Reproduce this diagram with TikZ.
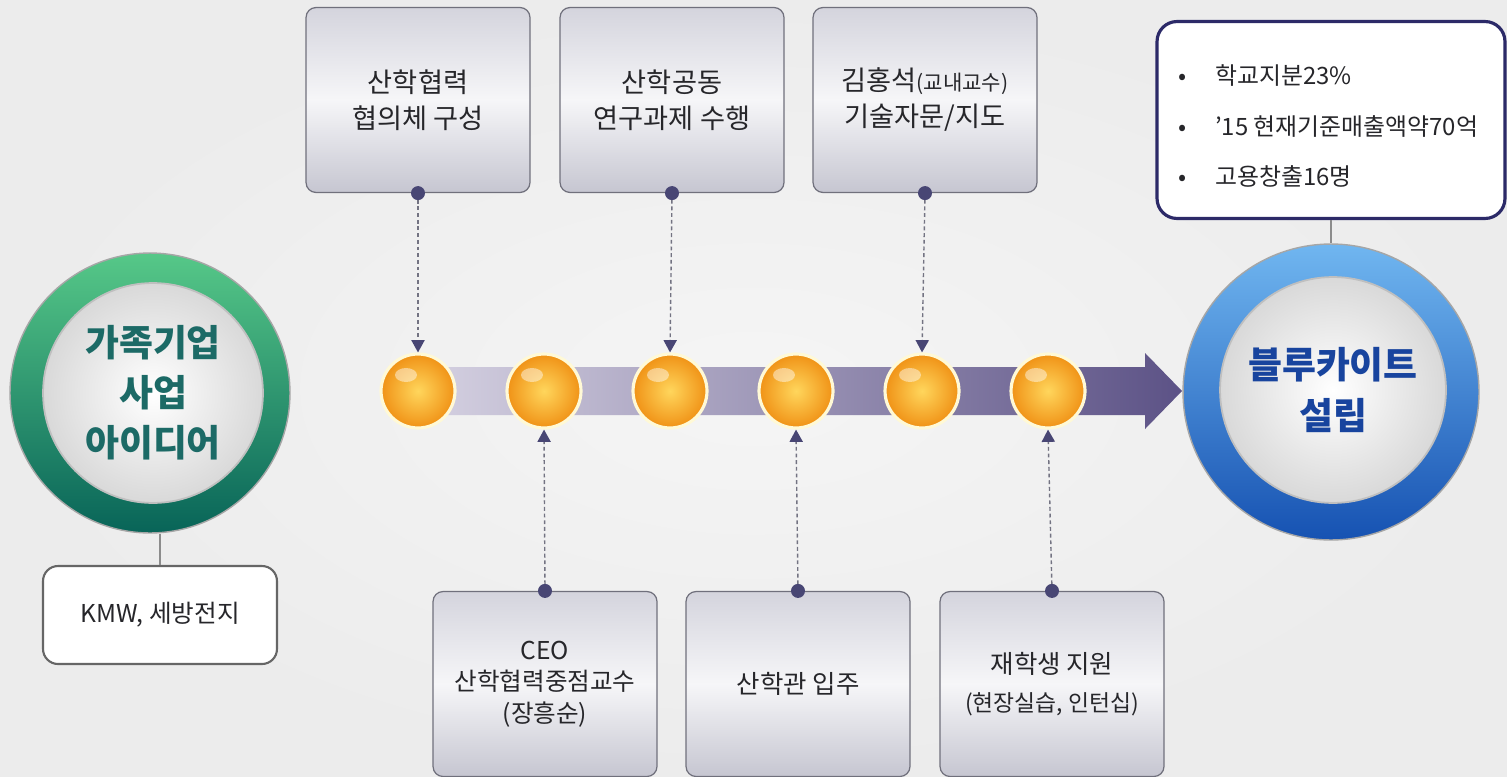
\documentclass[tikz,border=0pt]{standalone}
\usepackage{fontspec}
\setmainfont{Noto Sans CJK KR}
\usetikzlibrary{arrows.meta}
\definecolor{bgcol}{RGB}{236,236,236}
\definecolor{boxtop}{RGB}{212,212,221}
\definecolor{boxmid}{RGB}{246,246,248}
\definecolor{boxbot}{RGB}{198,198,209}
\definecolor{boxline}{RGB}{112,112,124}
\definecolor{pincol}{RGB}{72,70,116}
\definecolor{feedcol}{RGB}{115,115,130}
\definecolor{bandl}{RGB}{214,210,226}
\definecolor{bandr}{RGB}{92,82,134}
\definecolor{beadin}{RGB}{255,214,92}
\definecolor{beadout}{RGB}{240,146,22}
\definecolor{beadrim}{RGB}{255,249,214}
\definecolor{green1}{RGB}{86,200,136}
\definecolor{green2}{RGB}{8,100,88}
\definecolor{tealtxt}{RGB}{28,106,102}
\definecolor{blue1}{RGB}{112,182,240}
\definecolor{blue2}{RGB}{22,82,178}
\definecolor{bluetxt}{RGB}{24,68,158}
\definecolor{navy1}{RGB}{44,42,104}
\definecolor{textgray}{RGB}{38,38,42}
\def\bw{4.48cm}
\def\bh{3.7cm}

\begin{document}
\begin{tikzpicture}[x=0.02cm, y=-0.02cm,
		card/.style={draw=boxline, line width=0.7pt, rounded corners=0.2cm,
			minimum width=\bw, minimum height=\bh, top color=boxtop, bottom color=boxbot,
			middle color=boxmid, align=center, text=textgray},
		bead/.style={circle, draw=beadrim, line width=1.8pt, inner color=beadin, outer color=beadout, minimum size=1.48cm},
		feed/.style={draw=feedcol, line width=0.8pt, dash pattern=on 2.2pt off 1.6pt,
			-{Triangle[width=7.5pt,length=7pt,color=pincol]}},
		ring/.style={circle, draw=black!35, line width=0.8pt},
		lens/.style={circle, draw=black!25, line width=1pt, inner color=white, outer color=black!15,
			align=center, font=\bfseries\fontsize{21}{28.5}\selectfont},
		stem/.style={draw=black!45, line width=0.7pt}]

	% Background
	\shade[inner color=white!96!black, outer color=bgcol] (0,0) rectangle (1507,777);
	\useasboundingbox (0,0) rectangle (1507,777);

	% Band with arrow head
	\shade[left color=bandl, right color=bandr] (418,367) -- (1145,367) -- (1145,353) -- (1182,391)
		-- (1145,429) -- (1145,415) -- (418,415) -- cycle;

	% Beads
	\foreach \i in {1,...,6}{
		\node[bead] (b\i) at ({418+126*(\i-1)},391) {};
		\fill[white, opacity=0.45] ({406+126*(\i-1)},375) ellipse (0.22cm and 0.14cm);
	}

	% Start and end
	\node[ring, top color=green1, bottom color=green2, minimum size=5.6cm] (idea) at (150,393) {};
	\node[lens, minimum size=4.4cm, text=tealtxt] (ideatxt) at (153,393) {가족기업\\사업\\아이디어};
	\node[ring, top color=blue1, bottom color=blue2, minimum size=5.92cm] (kite) at (1331,392) {};
	\node[lens, minimum size=4.52cm, text=bluetxt] (kitetxt) at (1333,390) {블루카이트\\설립};

	\node[draw=black!60, line width=1.2pt, fill=white, rounded corners=0.3cm, minimum width=4.68cm,
		minimum height=1.96cm, text=textgray, font=\fontsize{14}{18}\selectfont] (kmw) at (160,615) {KMW, 세방전지};
	\draw[stem] (kmw.north) -- (kmw.north |- idea.south);

	\node[draw=navy1, line width=1.8pt, fill=white, rounded corners=0.4cm, minimum width=6.96cm,
		minimum height=3.94cm] (memo) at (1331,120) {};
	\node[anchor=west, align=left, text=textgray, font=\fontsize{13.6}{29}\selectfont] (memotxt) at (1172,126)
		{\makebox[21pt][l]{•}학교지분23\%\\\makebox[21pt][l]{•}’15 현재기준매출액약70억\\\makebox[21pt][l]{•}고용창출16명};
	\draw[stem] (memo.south) -- (kite.north);

	% Upper boxes
	\node[card, font=\fontsize{15.5}{20.5}\selectfont] (t1) at (418,100) {산학협력\\협의체 구성};
	\node[card, font=\fontsize{15.5}{20.5}\selectfont] (t2) at (672,100) {산학공동\\연구과제 수행};
	\node[card, font=\fontsize{15.5}{20.5}\selectfont] (t3) at (925,100) {김홍석{\fontsize{12}{14}\selectfont(교내교수)}\\기술자문/지도};

	% Lower boxes
	\node[card, font=\fontsize{14}{17.8}\selectfont] (d1) at (545,684) {CEO\\산학협력중점교수\\(장흥순)};
	\node[card, font=\fontsize{14.5}{18}\selectfont] (d2) at (798,684) {산학관 입주};
	\node[card, font=\fontsize{14.5}{21.5}\selectfont] (d3) at (1052,684) {재학생 지원\\{\fontsize{13}{15}\selectfont(현장실습, 인턴십)}};

	% Feeds into the beads
	\draw[feed] (t1.south) -- (b1.north);
	\draw[feed] (t2.south) -- (b3.north);
	\draw[feed] (t3.south) -- (b5.north);
	\draw[feed] (d1.north) -- (b2.south);
	\draw[feed] (d2.north) -- (b4.south);
	\draw[feed] (d3.north) -- (b6.south);
	\foreach \n in {t1,t2,t3}
		\fill[pincol] (\n.south) circle (0.14cm);
	\foreach \n in {d1,d2,d3}
		\fill[pincol] (\n.north) circle (0.14cm);

\end{tikzpicture}
\end{document}
